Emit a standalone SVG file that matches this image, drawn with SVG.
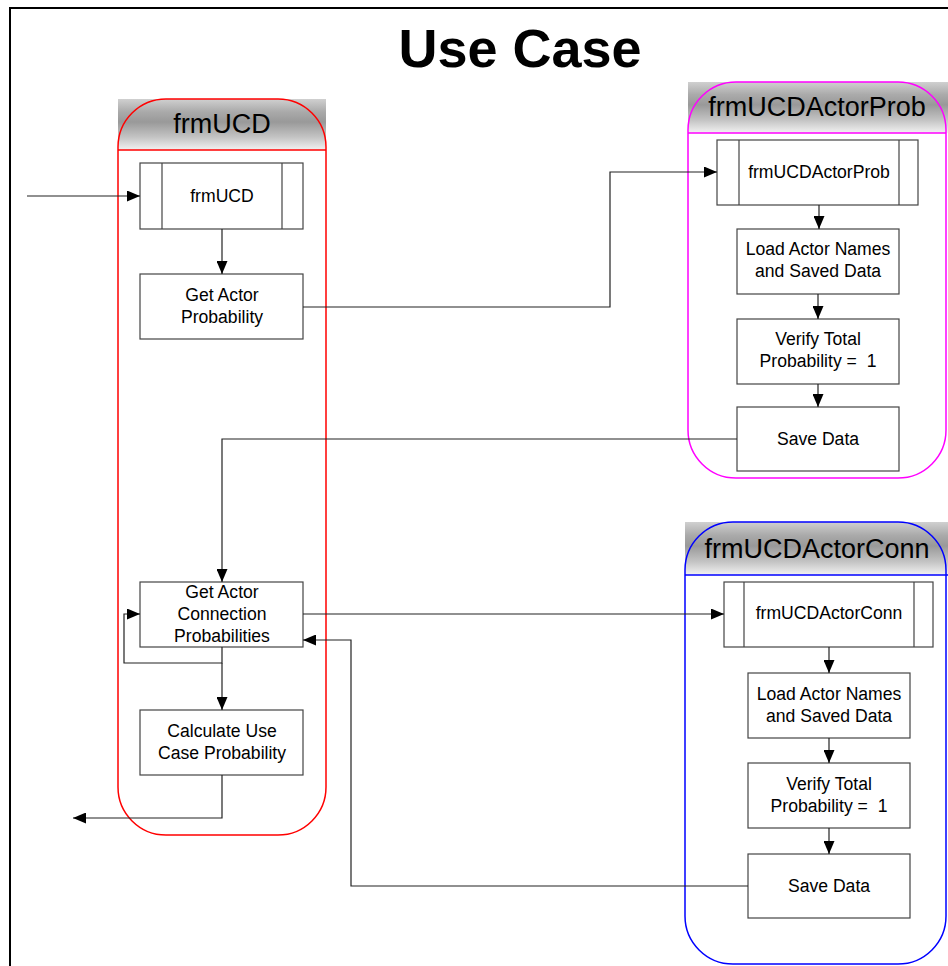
<svg xmlns="http://www.w3.org/2000/svg" width="948" height="966" viewBox="0 0 948 966">
<style>
.frame{fill:none;stroke:#000;stroke-width:2}
.title{font-family:"Liberation Sans",Arial,sans-serif;font-weight:bold;font-size:54px;text-anchor:middle;fill:#000}
.hdr{fill:url(#hg)}
.htxt{font-family:"Liberation Sans",Arial,sans-serif;font-size:27px;text-anchor:middle;fill:#000}
.box{fill:#fff;stroke:#444;stroke-width:1.2}
.t{font-family:"Liberation Sans",Arial,sans-serif;font-size:17.6px;text-anchor:middle;fill:#000;white-space:pre}
.c{fill:none;stroke:#222;stroke-width:1.2}
</style>
<defs>
<linearGradient id="hg" x1="0" y1="0" x2="0" y2="1">
<stop offset="0" stop-color="#d0d0d0"/>
<stop offset="0.25" stop-color="#aaaaaa"/>
<stop offset="0.45" stop-color="#999999"/>
<stop offset="0.75" stop-color="#c4c4c4"/>
<stop offset="1" stop-color="#f2f2f2"/>
</linearGradient>
<marker id="ah" viewBox="0 0 13 11" refX="13" refY="5.5" markerWidth="13" markerHeight="11" markerUnits="userSpaceOnUse" orient="auto">
<path d="M0,0 L13,5.5 L0,11 Z" fill="#000"/>
</marker>
</defs>
<rect width="948" height="966" fill="#fff"/>
<path class="frame" d="M10,966 V8 H948"/>
<text class="title" x="520" y="67">Use Case</text>

<g id="lane-frmUCD">
<rect class="hdr" x="118" y="99" width="208" height="51"/>
<rect x="118" y="99" width="208" height="736" rx="48" ry="48" fill="none" stroke="#ff0000" stroke-width="1.5"/>
<line x1="118" y1="150" x2="326" y2="150" stroke="#ff0000" stroke-width="1.5"/>
<text class="htxt" x="222" y="133">frmUCD</text>
</g>
<g id="lane-frmUCDActorProb">
<rect class="hdr" x="688" y="82" width="260" height="51"/>
<rect x="688" y="82" width="258" height="396" rx="48" ry="48" fill="none" stroke="#ff00ff" stroke-width="1.5"/>
<line x1="688" y1="133" x2="946" y2="133" stroke="#ff00ff" stroke-width="1.5"/>
<text class="htxt" x="817" y="116">frmUCDActorProb</text>
</g>
<g id="lane-frmUCDActorConn">
<rect class="hdr" x="685" y="522" width="263" height="53"/>
<rect x="685" y="522" width="261" height="442" rx="48" ry="48" fill="none" stroke="#0000ff" stroke-width="1.5"/>
<line x1="685" y1="575" x2="948" y2="575" stroke="#0000ff" stroke-width="1.5"/>
<text class="htxt" x="817" y="558">frmUCDActorConn</text>
</g>

<g id="n-frmUCD">
<rect class="box" x="140" y="163" width="163" height="66"/>
<line class="box" x1="162" y1="163" x2="162" y2="229"/>
<line class="box" x1="282" y1="163" x2="282" y2="229"/>
<text class="t" x="222" y="202">frmUCD</text>
</g>
<g id="n-getActorProb">
<rect class="box" x="140" y="274" width="163" height="65"/>
<text class="t" x="222" y="301">Get Actor</text>
<text class="t" x="222" y="323">Probability</text>
</g>
<g id="n-getActorConn">
<rect class="box" x="140" y="582" width="163" height="65"/>
<text class="t" x="222" y="598">Get Actor</text>
<text class="t" x="222" y="620">Connection</text>
<text class="t" x="222" y="642">Probabilities</text>
</g>
<g id="n-calcUseCase">
<rect class="box" x="140" y="710" width="163" height="65"/>
<text class="t" x="222" y="737">Calculate Use</text>
<text class="t" x="222" y="759">Case Probability</text>
</g>

<g id="n-frmUCDActorProb">
<rect class="box" x="717" y="140" width="201" height="65"/>
<line class="box" x1="739" y1="140" x2="739" y2="205"/>
<line class="box" x1="899" y1="140" x2="899" y2="205"/>
<text class="t" x="819" y="178">frmUCDActorProb</text>
</g>
<g id="n-loadProb">
<rect class="box" x="737" y="229" width="162" height="65"/>
<text class="t" x="818" y="255">Load Actor Names</text>
<text class="t" x="818" y="277">and Saved Data</text>
</g>
<g id="n-verifyProb">
<rect class="box" x="737" y="319" width="162" height="65"/>
<text class="t" x="818" y="345">Verify Total</text>
<text class="t" x="818" y="367">Probability =  1</text>
</g>
<g id="n-saveProb">
<rect class="box" x="737" y="407" width="162" height="64"/>
<text class="t" x="818" y="445">Save Data</text>
</g>

<g id="n-frmUCDActorConn">
<rect class="box" x="724" y="582" width="209" height="65"/>
<line class="box" x1="744" y1="582" x2="744" y2="647"/>
<line class="box" x1="914" y1="582" x2="914" y2="647"/>
<text class="t" x="829" y="619">frmUCDActorConn</text>
</g>
<g id="n-loadConn">
<rect class="box" x="748" y="673" width="162" height="65"/>
<text class="t" x="829" y="700">Load Actor Names</text>
<text class="t" x="829" y="722">and Saved Data</text>
</g>
<g id="n-verifyConn">
<rect class="box" x="748" y="763" width="162" height="65"/>
<text class="t" x="829" y="790">Verify Total</text>
<text class="t" x="829" y="812">Probability =  1</text>
</g>
<g id="n-saveConn">
<rect class="box" x="748" y="854" width="162" height="64"/>
<text class="t" x="829" y="892">Save Data</text>
</g>

<g id="connectors">
<path class="c" marker-end="url(#ah)" d="M27,196 H140"/>
<path class="c" marker-end="url(#ah)" d="M222,229 V274"/>
<path class="c" marker-end="url(#ah)" d="M303,307 H610 V172 H717"/>
<path class="c" marker-end="url(#ah)" d="M819,205 V229"/>
<path class="c" marker-end="url(#ah)" d="M818,294 V319"/>
<path class="c" marker-end="url(#ah)" d="M818,384 V407"/>
<path class="c" marker-end="url(#ah)" d="M737,439 H222 V582"/>
<path class="c" marker-end="url(#ah)" d="M303,614 H724"/>
<path class="c" marker-end="url(#ah)" d="M829,647 V673"/>
<path class="c" marker-end="url(#ah)" d="M829,738 V763"/>
<path class="c" marker-end="url(#ah)" d="M829,828 V854"/>
<path class="c" marker-end="url(#ah)" d="M748,886 H351 V640 H303"/>
<path class="c" marker-end="url(#ah)" d="M222,647 V663 H124 V614 H140"/>
<path class="c" marker-end="url(#ah)" d="M222,663 V710"/>
<path class="c" marker-end="url(#ah)" d="M222,775 V818 H73"/>
</g>
</svg>
